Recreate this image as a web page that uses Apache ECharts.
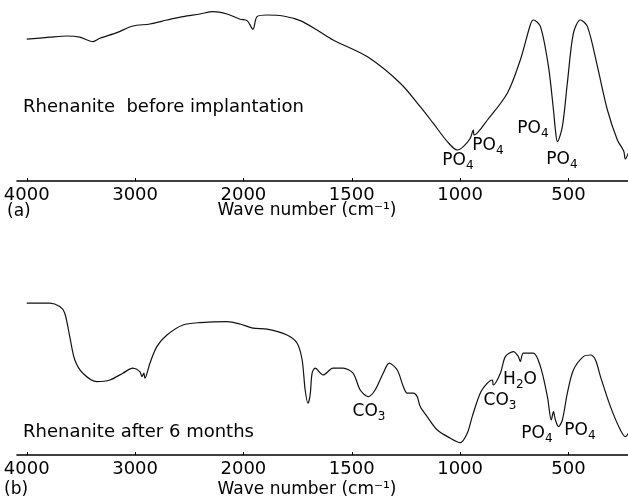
<!DOCTYPE html>
<html><head><meta charset="utf-8">
<script src="https://cdn.jsdelivr.net/npm/echarts@6/dist/echarts.min.js"></script>
<style>html,body{margin:0;padding:0;background:#fff}#c{width:628px;height:504px}</style>
</head><body><div id="c"></div>
<script>
// Tick labels (wavenumber, cm-1)
const tickWaves = [4000, 3000, 2000, 1500, 1000, 500];

// (a) Rhenanite before implantation: wavenumber / transmittance (%)
const waveA = [4000,3787,3630,3510,3390,3325,3168,3020,2863,2706,2558,2401,2281,2152,2031,1983,1956,1937,1891,1817,1738,1660,1586,1429,1276,1184,1124,1059,1013,985,953,939,935,874,782,722,676,662,629,592,569,560,551,528,505,477,445,412,366,320,274,245,237,223];
const transA = [70.9,71.9,72.5,71.9,69.7,71.4,74.2,77.5,78.5,80.5,82.2,83.5,84.7,83.5,80.9,80.2,75.9,82.2,83,82.5,80.2,75.5,70.5,62.2,48.9,37.2,28.9,19.7,15.5,17.2,21.4,25.5,23,30.5,43.9,60.5,78,80.5,77.2,57.2,35.5,25.5,19.7,27.2,48.9,73.9,80.5,77.2,57.2,35.5,20.5,15,11,14];

// (b) Rhenanite after 6 months
const waveB = [4000,3787,3695,3649,3603,3556,3482,3353,3233,3113,3020,2956,2937,2919,2909,2863,2799,2706,2558,2401,2152,2031,1956,1891,1799,1752,1729,1715,1702,1692,1683,1669,1632,1586,1540,1494,1461,1424,1392,1355,1327,1290,1262,1244,1216,1198,1184,1152,1105,1045,999,967,944,907,874,851,847,814,791,754,731,722,708,662,629,597,579,569,560,546,528,505,477,431,398,375,352,306,260,237,223];
const transB = [75.9,75.9,74.2,70.9,59.2,47.5,40.9,36.7,37.5,40.9,43.4,41.7,39.2,40.9,38.4,45.9,54.2,60,65,66.2,66.7,65.5,63.4,62.9,60,55.9,47.5,32.5,25.9,30,40.9,43.4,40,43.4,43.4,40.9,32.5,29.2,32.5,40.9,45.9,42.5,34.2,30.9,30.9,29.2,24.2,19.2,12.5,8.4,6.2,10.9,19.2,30.9,35.9,37.5,35,40.9,49.2,51.7,49.2,46.7,50.9,50.9,44.2,29.2,17.5,21.7,17.5,14.2,17.5,30.9,42.5,49.2,50,47.5,39.2,24.2,12.5,9.2,10.9];

// Grating-change scale of the spectrometer: 4000-2000 at 1000/unit, below 2000 at 500/unit
function toScale(w){ return w >= 2000 ? (4000 - w) / 1000 : 2 + (2000 - w) / 500; }
const tickPos = tickWaves.map(toScale);

const FONT = 'DejaVu Sans';
function pairs(ws, ts){ return ws.map((w,i)=>[toScale(w), ts[i]]); }

function xAxis(gi){
  return {
    type:'value', gridIndex:gi, min:-0.09, max:5.55,
    axisLine:{show:true, onZero:false, lineStyle:{color:'#000', width:1.6}},
    axisTick:{show:true, inside:true, length:3, customValues:tickPos, lineStyle:{color:'#000'}},
    axisLabel:{show:true, customValues:tickPos, margin:5, color:'#000', fontFamily:FONT, fontSize:18,
      formatter:(v)=>{ const i = tickPos.findIndex(p=>Math.abs(p-v)<1e-6); return i>=0 ? String(tickWaves[i]) : ''; }},
    splitLine:{show:false}
  };
}
function yAxis(gi){
  return {type:'value', gridIndex:gi, min:0, max:90, show:false, splitLine:{show:false}};
}

const rich = {
  n:{fontSize:17, fontFamily:FONT, color:'#000'},
  s:{fontSize:12, fontFamily:FONT, color:'#000', padding:[9,0,0,0]}
};
function chem(txt, x, y){
  return {type:'text', x:x, y:y, style:{text:txt, rich:rich, align:'center', verticalAlign:'middle', fill:'#000'}};
}
function plain(txt, x, y, size, align){
  return {type:'text', x:x, y:y, style:{text:txt, fontFamily:FONT, fontSize:size, fill:'#000', align:align||'left', verticalAlign:'middle'}};
}

const chart = echarts.init(document.getElementById('c'), null, {renderer:'canvas'});
chart.setOption({
  backgroundColor:'#fff',
  animation:false,
  grid:[
    {left:17, right:0, top:1, height:180},
    {left:17, right:0, top:275, height:180}
  ],
  xAxis:[xAxis(0), xAxis(1)],
  yAxis:[yAxis(0), yAxis(1)],
  series:[
    {type:'line', xAxisIndex:0, yAxisIndex:0, data:pairs(waveA, transA), showSymbol:false, smooth:0.3,
     lineStyle:{color:'#111', width:1.2}},
    {type:'line', xAxisIndex:1, yAxisIndex:1, data:pairs(waveB, transB), showSymbol:false, smooth:0.3,
     lineStyle:{color:'#111', width:1.2}}
  ],
  graphic:[
    plain('Rhenanite  before implantation', 23, 107, 18),
    plain('(a)', 7, 212, 17),
    plain('Wave number (cm⁻¹)', 307, 211, 17, 'center'),
    chem('{n|PO}{s|4}', 458, 161),
    chem('{n|PO}{s|4}', 488, 146),
    chem('{n|PO}{s|4}', 533, 129),
    chem('{n|PO}{s|4}', 562, 160),
    plain('Rhenanite after 6 months', 23, 432, 18),
    plain('(b)', 4, 490, 17),
    plain('Wave number (cm⁻¹)', 307, 490, 17, 'center'),
    chem('{n|CO}{s|3}', 369, 412),
    chem('{n|CO}{s|3}', 500, 401),
    chem('{n|H}{s|2}{n|O}', 520, 380),
    chem('{n|PO}{s|4}', 537, 434),
    chem('{n|PO}{s|4}', 580, 431)
  ]
});
</script></body></html>
